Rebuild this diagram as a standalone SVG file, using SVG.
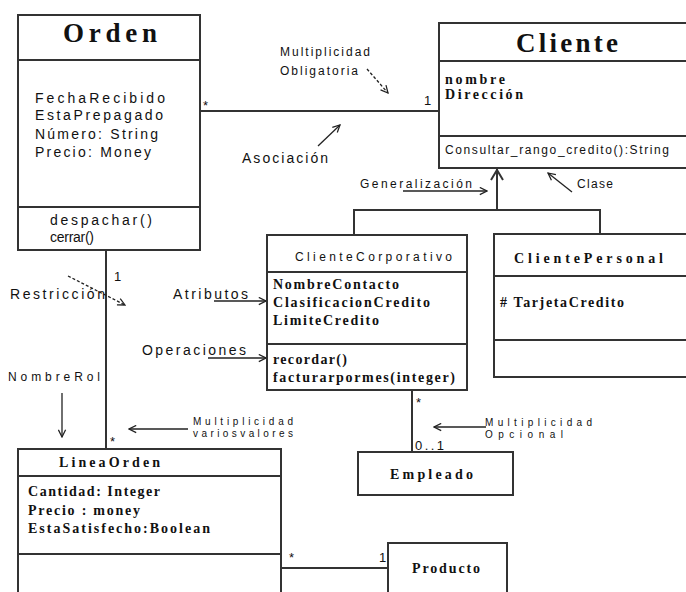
<svg xmlns="http://www.w3.org/2000/svg" width="686" height="592" viewBox="0 0 686 592">
  <style>
    .box { fill: #ffffff; stroke: #333333; stroke-width: 2; }
    .sep { stroke: #333333; stroke-width: 2; fill: none; }
    .ln { stroke: #333333; stroke-width: 2; fill: none; }
    .note { stroke: #222222; stroke-width: 1.3; fill: none; }
    .dash { stroke: #222222; stroke-width: 1.3; fill: none; stroke-dasharray: 3 2; }
    .title { font-family: "Liberation Serif", serif; font-size: 27px; font-weight: bold; fill: #111111; }
    .sans { font-family: "Liberation Sans", Arial, sans-serif; font-size: 14px; fill: #111111; }
    .small { font-family: "Liberation Sans", Arial, sans-serif; font-size: 12px; fill: #111111; }
    .tiny { font-family: "Liberation Sans", Arial, sans-serif; font-size: 10px; fill: #111111; }
    .serif { font-family: "Liberation Serif", serif; font-size: 14px; font-weight: bold; fill: #111111; }
    .mult { font-family: "Liberation Sans", Arial, sans-serif; font-size: 13px; fill: #111111; }
  </style>
  <defs>
    <marker id="open" viewBox="0 0 10 10" refX="9" refY="5" markerWidth="9" markerHeight="9" orient="auto" markerUnits="userSpaceOnUse">
      <path d="M1,1 L9,5 L1,9" fill="none" stroke="#222222" stroke-width="1.4"/>
    </marker>
  </defs>

  <!-- connectors -->
  <g id="connectors">
    <!-- Orden - Cliente association -->
    <line class="ln" x1="200" y1="111" x2="439" y2="111"/>
    <text class="mult" x="203" y="110">*</text>
    <text class="mult" x="424" y="105">1</text>
    <!-- generalization tree -->
    <line class="ln" x1="497" y1="169" x2="497" y2="210"/>
    <path class="ln" d="M491,180 L497,170 L503,180" stroke-width="1.5"/>
    <polyline class="ln" points="354,235 354,210 600,210 600,234"/>
    <!-- Orden - LineaOrden -->
    <line class="ln" x1="106" y1="250" x2="106" y2="449"/>
    <text class="mult" x="114" y="281">1</text>
    <text class="mult" x="110" y="446">*</text>
    <!-- ClienteCorporativo - Empleado -->
    <line class="ln" x1="412" y1="390" x2="412" y2="452"/>
    <text class="mult" x="416" y="407">*</text>
    <text class="mult" x="415" y="450" textLength="29" lengthAdjust="spacing">0..1</text>
    <!-- LineaOrden - Producto -->
    <line class="ln" x1="281" y1="568" x2="388" y2="568"/>
    <text class="mult" x="289" y="562">*</text>
    <text class="mult" x="379" y="562">1</text>
  </g>

  <!-- annotations -->
  <g id="notes">
    <text class="small" x="280" y="56" textLength="90" lengthAdjust="spacing">Multiplicidad</text>
    <text class="small" x="280" y="75" textLength="78" lengthAdjust="spacing">Obligatoria</text>
    <line class="dash" x1="367" y1="69" x2="388" y2="93" marker-end="url(#open)"/>
    <text class="sans" x="242" y="163" textLength="86" lengthAdjust="spacing">Asociación</text>
    <line class="note" x1="318" y1="146" x2="340" y2="125" marker-end="url(#open)"/>
    <text class="small" x="360" y="188" textLength="112" lengthAdjust="spacing">Generalización</text>
    <line class="note" x1="403" y1="191" x2="487" y2="191" marker-end="url(#open)"/>
    <text class="small" x="577" y="188" textLength="36" lengthAdjust="spacing">Clase</text>
    <line class="note" x1="572" y1="192" x2="548" y2="173" marker-end="url(#open)"/>
    <text class="sans" x="10" y="299" textLength="95" lengthAdjust="spacing">Restricción</text>
    <line class="dash" x1="68" y1="276" x2="125" y2="305" marker-end="url(#open)"/>
    <text class="sans" x="173" y="299" textLength="75" lengthAdjust="spacing">Atributos</text>
    <line class="note" x1="214" y1="301" x2="266" y2="301" marker-end="url(#open)"/>
    <text class="sans" x="142" y="355" textLength="104" lengthAdjust="spacing">Operaciones</text>
    <line class="note" x1="208" y1="358" x2="266" y2="358" marker-end="url(#open)"/>
    <text class="small" x="8" y="381" textLength="92" lengthAdjust="spacing">NombreRol</text>
    <line class="note" x1="62" y1="393" x2="62" y2="437" marker-end="url(#open)"/>
    <text class="tiny" x="193" y="425" textLength="100" lengthAdjust="spacing">Multiplicidad</text>
    <text class="tiny" x="193" y="437" textLength="100" lengthAdjust="spacing">variosvalores</text>
    <line class="note" x1="188" y1="429" x2="129" y2="429" marker-end="url(#open)"/>
    <text class="tiny" x="485" y="426" textLength="107" lengthAdjust="spacing">Multiplicidad</text>
    <text class="tiny" x="485" y="438" textLength="78" lengthAdjust="spacing">Opcional</text>
    <line class="note" x1="486" y1="427" x2="434" y2="427" marker-end="url(#open)"/>
  </g>

  <!-- class Orden -->
  <g id="orden">
    <rect class="box" x="18" y="15" width="182" height="235"/>
    <line class="sep" x1="18" y1="60" x2="200" y2="60"/>
    <line class="sep" x1="18" y1="207" x2="200" y2="207"/>
    <text class="title" x="63" y="42" textLength="94" lengthAdjust="spacing">Orden</text>
    <text class="sans" x="35" y="103" textLength="130" lengthAdjust="spacing">FechaRecibido</text>
    <text class="sans" x="35" y="120" textLength="128" lengthAdjust="spacing">EstaPrepagado</text>
    <text class="sans" x="35" y="139" textLength="123" lengthAdjust="spacing">Número: String</text>
    <text class="sans" x="35" y="157" textLength="116" lengthAdjust="spacing">Precio: Money</text>
    <text class="sans" x="50" y="225" textLength="102" lengthAdjust="spacing">despachar()</text>
    <text class="sans" x="50" y="242" textLength="44" lengthAdjust="spacing">cerrar()</text>
  </g>

  <!-- class Cliente -->
  <g id="cliente">
    <rect class="box" x="439" y="23" width="260" height="145"/>
    <line class="sep" x1="439" y1="61" x2="690" y2="61"/>
    <line class="sep" x1="439" y1="136" x2="690" y2="136"/>
    <text class="title" x="516" y="52" textLength="102" lengthAdjust="spacing">Cliente</text>
    <text class="serif" x="445" y="84" textLength="60" lengthAdjust="spacing">nombre</text>
    <text class="serif" x="445" y="99" textLength="78" lengthAdjust="spacing">Dirección</text>
    <text class="small" x="445" y="154" textLength="224" lengthAdjust="spacing">Consultar_rango_credito():String</text>
  </g>

  <!-- class ClienteCorporativo -->
  <g id="cliente-corporativo">
    <rect class="box" x="267" y="235" width="200" height="155"/>
    <line class="sep" x1="267" y1="272" x2="467" y2="272"/>
    <line class="sep" x1="267" y1="344" x2="467" y2="344"/>
    <text class="small" x="295" y="261" textLength="157" lengthAdjust="spacing">ClienteCorporativo</text>
    <text class="serif" x="273" y="289" textLength="126" lengthAdjust="spacing">NombreContacto</text>
    <text class="serif" x="273" y="307" textLength="157" lengthAdjust="spacing">ClasificacionCredito</text>
    <text class="serif" x="273" y="325" textLength="106" lengthAdjust="spacing">LimiteCredito</text>
    <text class="serif" x="273" y="364" textLength="74" lengthAdjust="spacing">recordar()</text>
    <text class="serif" x="273" y="382" textLength="182" lengthAdjust="spacing">facturarpormes(integer)</text>
  </g>

  <!-- class ClientePersonal -->
  <g id="cliente-personal">
    <rect class="box" x="494" y="234" width="210" height="143"/>
    <line class="sep" x1="494" y1="276" x2="690" y2="276"/>
    <line class="sep" x1="494" y1="340" x2="690" y2="340"/>
    <text class="serif" x="514" y="263" textLength="149" lengthAdjust="spacing">ClientePersonal</text>
    <text class="serif" x="500" y="307" textLength="124" lengthAdjust="spacing"># TarjetaCredito</text>
  </g>

  <!-- class LineaOrden -->
  <g id="linea-orden">
    <rect class="box" x="18" y="449" width="263" height="160"/>
    <line class="sep" x1="18" y1="476" x2="281" y2="476"/>
    <line class="sep" x1="18" y1="554" x2="281" y2="554"/>
    <text class="serif" x="59" y="467" font-size="12" textLength="101" lengthAdjust="spacing">LineaOrden</text>
    <text class="serif" x="28" y="496" textLength="132" lengthAdjust="spacing">Cantidad: Integer</text>
    <text class="serif" x="28" y="515" textLength="112" lengthAdjust="spacing">Precio : money</text>
    <text class="serif" x="28" y="533" textLength="182" lengthAdjust="spacing">EstaSatisfecho:Boolean</text>
  </g>

  <!-- class Empleado -->
  <g id="empleado">
    <rect class="box" x="358" y="452" width="155" height="43"/>
    <text class="serif" x="390" y="479" font-size="12" textLength="83" lengthAdjust="spacing">Empleado</text>
  </g>

  <!-- class Producto -->
  <g id="producto">
    <rect class="box" x="388" y="543" width="119" height="60"/>
    <text class="serif" x="412" y="573" font-size="12" textLength="68" lengthAdjust="spacing">Producto</text>
  </g>
</svg>
